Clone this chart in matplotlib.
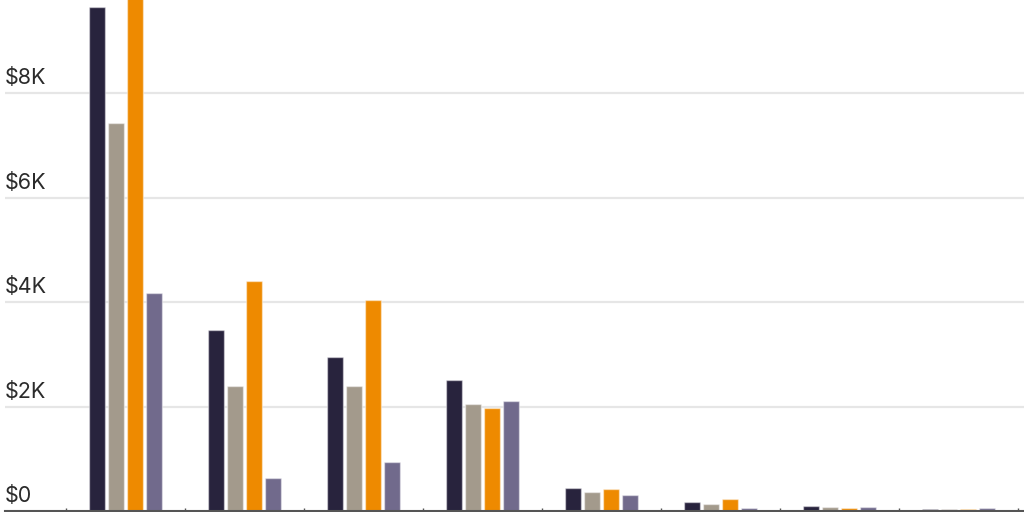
import matplotlib.pyplot as plt
import numpy as np

# values in thousands of dollars
groups = ['G1', 'G2', 'G3', 'G4', 'G5', 'G6', 'G7', 'G8']
series_a = [9.65, 3.46, 2.95, 2.51, 0.44, 0.18, 0.10, 0.03]
series_b = [7.43, 2.39, 2.39, 2.05, 0.36, 0.13, 0.07, 0.04]
series_c = [10.4, 4.40, 4.04, 1.97, 0.42, 0.23, 0.06, 0.03]
series_d = [4.17, 0.63, 0.94, 2.11, 0.31, 0.06, 0.08, 0.05]
y_ticks = [0, 2, 4, 6, 8]
y_labels = ['$0', '$2K', '$4K', '$6K', '$8K']

colors = ['#28233d', '#a39a8c', '#ee8a00', '#716a8c']

fig = plt.figure(figsize=(10.24, 5.12), dpi=100)
ax = fig.add_axes([5/1024, 1/512, 1019/1024, 511/512])

x = np.arange(len(groups))
w = 0.135
step = 0.16
for k, vals in enumerate([series_a, series_b, series_c, series_d]):
    ax.bar(x + (k - 1.5)*step, vals, width=w, color=colors[k],
           edgecolor=(1, 1, 1, 0.45), linewidth=1, zorder=3)

ax.set_xlim((5 - 125.5)/119, (1024 - 125.5)/119)
ax.set_ylim(0, 511/52.25)

# grid lines
for t in y_ticks[1:]:
    ax.axhline(t, color='#e6e6e6', lw=1.6, zorder=1)

# labels sit above the grid lines, at the left edge
for t, lab in zip(y_ticks, y_labels):
    ax.annotate(lab, xy=(0, t), xycoords=('axes fraction', 'data'),
                xytext=(0, 3.5), textcoords='offset points',
                ha='left', va='bottom', fontsize=15.5, color='#2b2b2b',
                family=['Inter', 'DejaVu Sans'])

for s in ['top', 'right', 'left']:
    ax.spines[s].set_visible(False)
ax.spines['bottom'].set_color('#555555')
ax.spines['bottom'].set_linewidth(1.5)
ax.spines['bottom'].set_zorder(4)

ax.set_yticks([])
ax.set_xticks(np.arange(len(groups) + 1) - 0.5)
ax.set_xticklabels([])
ax.tick_params(axis='x', direction='in', length=2, color='#555555', width=1)

fig.savefig('out.png', dpi=100)
